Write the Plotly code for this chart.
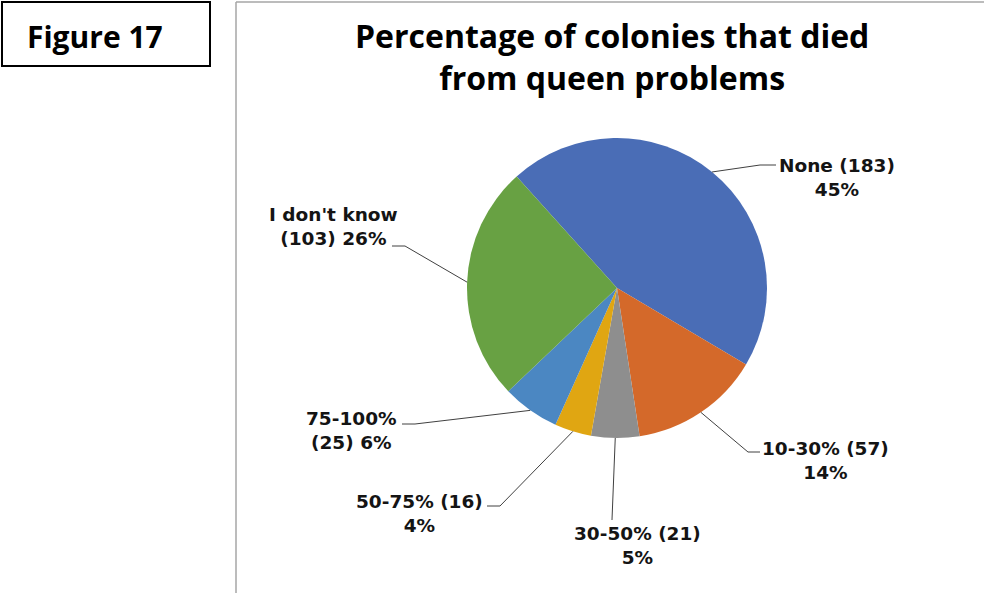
import math
import plotly.graph_objects as go

# ---- data ----
categories = ["None", "10-30%", "30-50%", "50-75%", "75-100%", "I don't know"]
counts = [183, 57, 21, 16, 25, 103]
pct_labels = ["45%", "14%", "5%", "4%", "6%", "26%"]
colors = ["#4a6db6", "#d4692a", "#8e8e8e", "#e0a612", "#4b87c2", "#68a143"]

W, H = 984, 593
def px(x):
    return x / W
def py(y):
    return 1 - y / H

# pie geometry (pixels)
CX, CY, R = 617, 288, 150
ROT = -42  # first slice starts 42 deg counter-clockwise of 12 o'clock

fig = go.Figure()
fig.add_trace(go.Pie(
    labels=categories, values=counts, sort=False, direction="clockwise",
    rotation=ROT, textinfo="none", hoverinfo="label+value+percent",
    marker=dict(colors=colors, line=dict(width=0)),
    domain=dict(x=[px(CX - R), px(CX + R)], y=[py(CY + R), py(CY - R)]),
    showlegend=False,
))

# label text
label_text = [
    f"{categories[0]} ({counts[0]})<br>{pct_labels[0]}",
    f"{categories[1]} ({counts[1]})<br>{pct_labels[1]}",
    f"{categories[2]} ({counts[2]})<br>{pct_labels[2]}",
    f"{categories[3]} ({counts[3]})<br>{pct_labels[3]}",
    f"{categories[4]}<br>({counts[4]}) {pct_labels[4]}",
    f"{categories[5]}<br>({counts[5]}) {pct_labels[5]}",
]
# label centres and leader-line elbows/ends (pixels)
label_pos = [(837, 177), (825, 460), (637, 545), (419, 513), (351, 430), (333, 227)]
leader_pts = [
    [(760, 165), (776, 165)],
    [(748, 452), (760, 452)],
    [(612, 520)],
    [(500, 506), (487, 506)],
    [(415, 424), (402, 424)],
    [(405, 246), (392, 246)],
]

total = sum(counts)
shapes = []
annotations = []
cum = 0.0
for i, v in enumerate(counts):
    mid = ROT + (cum + v / 2) / total * 360
    cum += v
    a = math.radians(mid)
    ax_, ay_ = CX + R * math.sin(a), CY - R * math.cos(a)
    pts = [(ax_, ay_)] + leader_pts[i]
    path = "M " + " L ".join(f"{px(x):.5f},{py(y):.5f}" for x, y in pts)
    shapes.append(dict(type="path", xref="paper", yref="paper", path=path,
                       line=dict(color="#404040", width=1)))
    annotations.append(dict(
        x=px(label_pos[i][0]), y=py(label_pos[i][1]), xref="paper", yref="paper",
        text=label_text[i], showarrow=False, align="center",
        xanchor="center", yanchor="middle",
        font=dict(family="DejaVu Sans", size=18.5, color="#141414", weight="bold"),
    ))

# chart-area border (left and top) and figure-label box
shapes.append(dict(type="line", xref="paper", yref="paper",
                   x0=px(236), x1=px(236), y0=py(2), y1=py(593),
                   line=dict(color="#a6a6a6", width=1.5)))
shapes.append(dict(type="line", xref="paper", yref="paper",
                   x0=px(236), x1=px(984), y0=py(2), y1=py(2),
                   line=dict(color="#a6a6a6", width=1.5)))
shapes.append(dict(type="rect", xref="paper", yref="paper",
                   x0=px(2), x1=px(210), y0=py(2), y1=py(66),
                   line=dict(color="#000000", width=2)))

annotations.append(dict(
    x=px(95), y=py(36), xref="paper", yref="paper", text="Figure 17",
    showarrow=False, xanchor="center", yanchor="middle",
    font=dict(family="Open Sans", size=30, color="#000000", weight="bold"),
))
annotations.append(dict(
    x=px(612), y=py(57), xref="paper", yref="paper",
    text="Percentage of colonies that died<br>from queen problems",
    showarrow=False, xanchor="center", yanchor="middle", align="center",
    font=dict(family="Open Sans", size=32, color="#000000", weight="bold"),
))

fig.update_layout(
    width=W, height=H, margin=dict(l=0, r=0, t=0, b=0),
    paper_bgcolor="white", plot_bgcolor="white",
    shapes=shapes, annotations=annotations,
)
fig.write_html("out.html")
